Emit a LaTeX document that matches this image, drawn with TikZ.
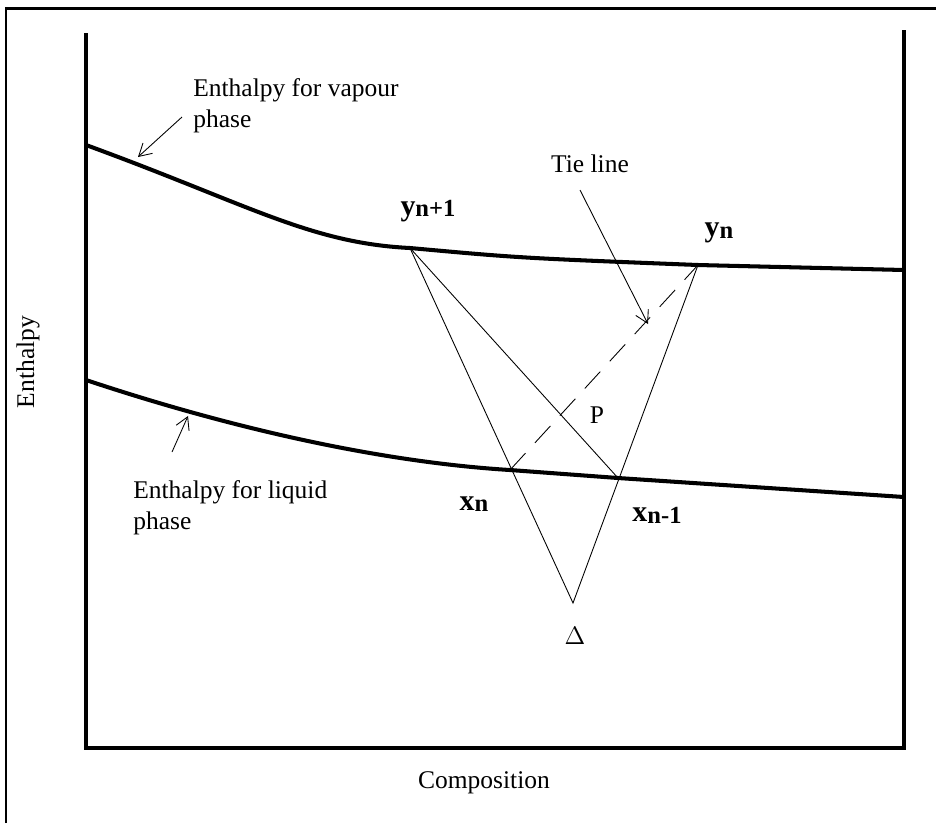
\documentclass[tikz,border=0pt]{standalone}
\usepackage{fontspec}
\setmainfont{Liberation Serif}
\usetikzlibrary{arrows.meta}

\begin{document}
\begin{tikzpicture}[x=0.02cm,y=-0.02cm,font=\fontsize{14.5}{17.5}\selectfont,
  axis/.style={line width=2.4pt,line join=miter},
  curve/.style={line width=2.3pt},
  thinline/.style={line width=0.5pt},
  callout/.style={line width=0.5pt,-{Straight Barb[length=7pt,width=8pt]}},
  ptlabel/.style={font=\fontsize{17}{20}\selectfont\bfseries,inner sep=1pt},
  subs/.style={}]
  \useasboundingbox (0,0) rectangle (936,823);
  % outer frame
  \draw[line width=1.5pt] (6,823) -- (6,8.5) -- (936,8.5);
  % axes
  \draw[axis] (86,33) -- (86,748) -- (904,748) -- (904,30);
  \node[rotate=90] (ylab) at (28,362) {Enthalpy};
  \node (xlab) at (484,783) {Composition};

  % vapour and liquid curves
  \draw[curve] (86,145) .. controls (250,205) and (310,243) .. (410,248)
    .. controls (520,258) .. (698,265) -- (904,270);
  \draw[curve] (86,380) .. controls (230,428) and (380,462) .. (510,470)
    -- (618,478) -- (904,497);

  \coordinate (yn1) at (410,248);
  \coordinate (yn) at (698,265);
  \coordinate (xn) at (510,470);
  \coordinate (xn1) at (618,478);
  \coordinate (delta) at (573,603);

  \draw[thinline] (yn1) -- (delta) -- (yn);
  \draw[thinline] (yn1) -- (xn1);
  \draw[thinline,dash pattern=on 13pt off 8pt] (xn) -- (yn);

  \newcommand\subtxt[1]{\raisebox{-.1ex}{\fontsize{14}{16}\selectfont #1}}
  \node[ptlabel] (lyn1) at (428,211) {y\subtxt{n+1}};
  \node[ptlabel] (lyn) at (719,233) {y\subtxt{n}};
  \node[ptlabel] (lxn) at (474,504) {x\subtxt{n}};
  \node[ptlabel] (lxn1) at (657,515) {x\subtxt{n-1}};
  \node (ldelta) at (575,636) {$\Delta$};
  \node (lp) at (597,415) {P};

  % callouts
  \node (tie) at (590,164) {Tie line};
  \coordinate (tiestart) at (580,190);
  \coordinate (tieend) at (648,324);
  \draw[callout] (tiestart) -- (tieend);

  \node[anchor=north west,align=left,inner sep=0pt] (vap) at (193,78) {Enthalpy for vapour\\phase};
  \coordinate (vapstart) at (182,117);
  \coordinate (vapend) at (138,157);
  \draw[callout] (vapstart) -- (vapend);

  \node[anchor=north west,align=left,inner sep=0pt] (liq) at (133,480) {Enthalpy for liquid\\phase};
  \coordinate (liqstart) at (172,452);
  \coordinate (liqend) at (188,416);
  \draw[callout] (liqstart) -- (liqend);
\end{tikzpicture}
\end{document}
